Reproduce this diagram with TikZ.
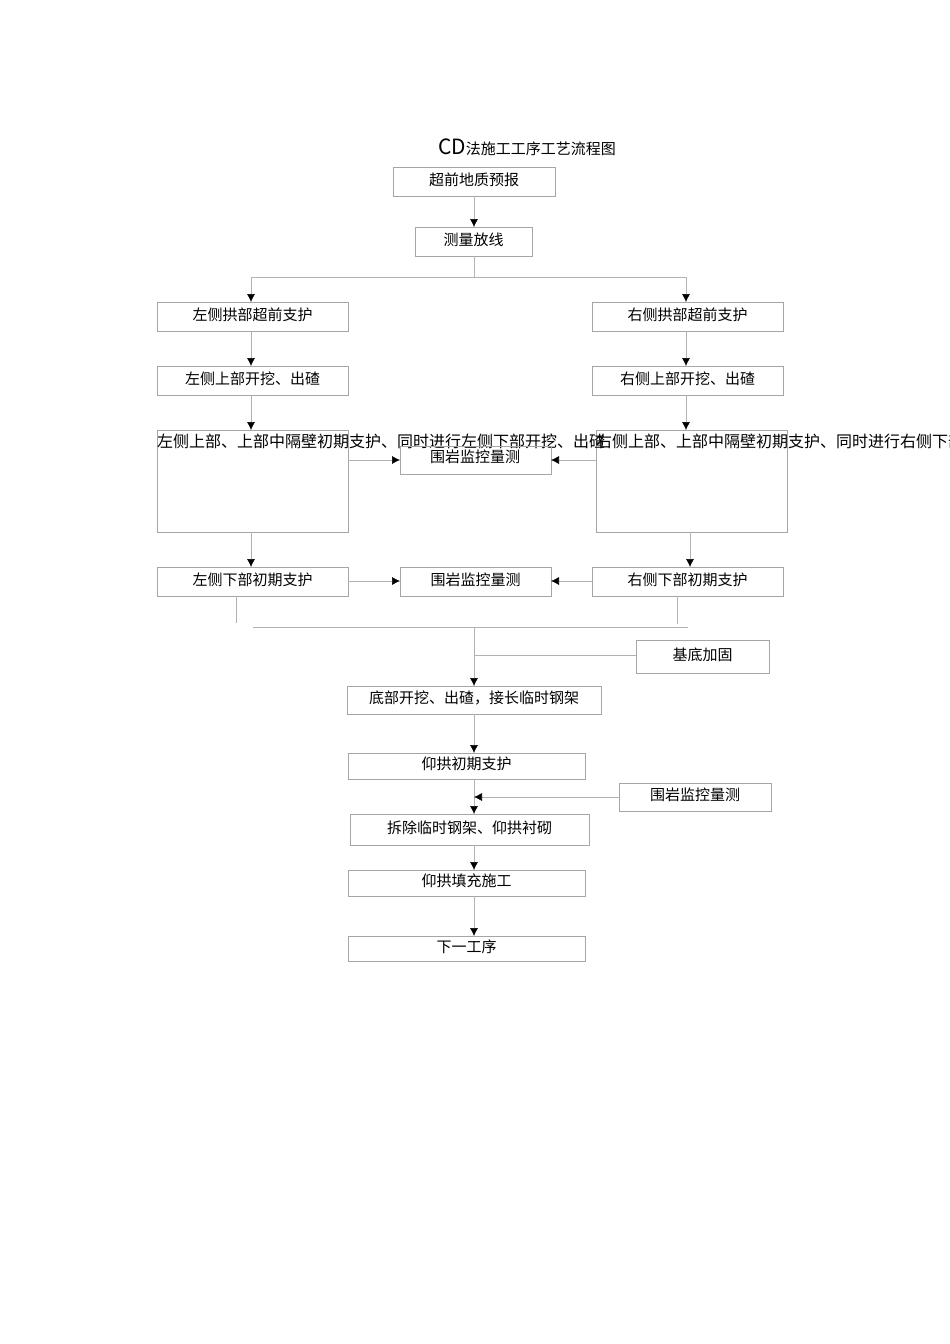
\documentclass[tikz,border=0pt]{standalone}
\usepackage{fontspec}
\setmainfont{Liberation Sans}
\newfontfamily\cjk{Noto Sans CJK SC}
\usetikzlibrary{arrows.meta}
\begin{document}
\begin{tikzpicture}[x=1pt,y=-1pt,
 bx/.style={draw=black!35,line width=0.6pt},
 lab/.style={font=\cjk\fontsize{15}{17}\selectfont},
 ln/.style={draw=black!30,line width=0.6pt},
 ar/.style={ln,-{Latex[length=8pt,width=8pt,black]}}]
\useasboundingbox (0,0) rectangle (950,1344);
\node[lab,font=\cjk\fontsize{15}{16}\selectfont] (title) at (527,147) {{\fontsize{21}{22}\selectfont CD}法施工工序工艺流程图};
\newcommand\bxn[6]{\draw[bx] (#2,#3) rectangle (#4,#5); \node[lab] (#1) at ({(#2+#4)/2},{(#3+#5)/2-2}) {#6};}
\bxn{b1}{393}{167}{555}{196}{超前地质预报}
\bxn{b2}{415}{227}{532}{256}{测量放线}
\bxn{b3}{157}{302}{348}{331}{左侧拱部超前支护}
\bxn{b4}{592}{302}{783}{331}{右侧拱部超前支护}
\bxn{b5}{157}{366}{348}{395}{左侧上部开挖、出碴}
\bxn{b6}{592}{366}{783}{395}{右侧上部开挖、出碴}
\draw[bx] (157,430) rectangle (348,532);
\draw[bx] (596,430) rectangle (787,532);
\node[lab,font=\cjk\fontsize{16}{17}\selectfont,anchor=west,inner sep=0pt] (t7) at (157,441) {左侧上部、上部中隔壁初期支护、同时进行左侧下部开挖、出碴};
\node[lab,font=\cjk\fontsize{16}{17}\selectfont,anchor=west,inner sep=0pt] (t8) at (596,441) {右侧上部、上部中隔壁初期支护、同时进行右侧下部开挖、出碴};
\draw[bx] (400,446) rectangle (551,474);
\node[lab] (m1) at (475,457) {围岩监控量测};
\bxn{b9}{157}{567}{348}{596}{左侧下部初期支护}
\bxn{m2}{400}{567}{551}{596}{围岩监控量测}
\bxn{b10}{592}{567}{783}{596}{右侧下部初期支护}
\bxn{jd}{636}{640}{769}{673}{基底加固}
\bxn{b11}{347}{686}{601}{714}{底部开挖、出碴，接长临时钢架}
\bxn{b12}{348}{753}{585}{779}{仰拱初期支护}
\bxn{m3}{619}{783}{771}{811}{围岩监控量测}
\bxn{b13}{350}{814}{589}{845}{拆除临时钢架、仰拱衬砌}
\bxn{b14}{348}{870}{585}{896}{仰拱填充施工}
\bxn{b15}{348}{936}{585}{961}{下一工序}
\draw[ar] (474,196) -- (474,227);
\draw[ln] (474,256) -- (474,277);
\draw[ar] (251,277) -- (251,302);
\draw[ar] (686,277) -- (686,302);
\draw[ln] (251,277) -- (686,277);
\draw[ar] (251,331) -- (251,366);
\draw[ar] (686,331) -- (686,366);
\draw[ar] (251,395) -- (251,430);
\draw[ar] (686,395) -- (686,430);
\draw[ar] (348,460) -- (400,460);
\draw[ar] (596,460) -- (551,460);
\draw[ar] (251,532) -- (251,567);
\draw[ar] (690,532) -- (690,567);
\draw[ar] (348,581) -- (400,581);
\draw[ar] (592,581) -- (551,581);
\draw[ln] (236,596) -- (236,623);
\draw[ln] (677,596) -- (677,624);
\draw[ln] (253,627) -- (688,627);
\draw[ar] (474,627) -- (474,686);
\draw[ln] (636,655) -- (474,655);
\draw[ar] (474,714) -- (474,753);
\draw[ar] (474,779) -- (474,814);
\draw[ar] (619,797) -- (474,797);
\draw[ar] (474,845) -- (474,870);
\draw[ar] (474,896) -- (474,936);
\end{tikzpicture}
\end{document}
